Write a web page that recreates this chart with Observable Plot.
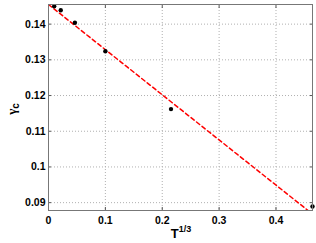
<!DOCTYPE html>
<html>
<head>
<meta charset="utf-8">
<script src="https://cdn.jsdelivr.net/npm/d3@7"></script>
<script src="https://cdn.jsdelivr.net/npm/@observablehq/plot@0.6"></script>
<style>
  html, body { margin: 0; padding: 0; background: #fff; }
  svg { display: block; }
</style>
</head>
<body>
<div id="chart"></div>
<script>
// Data points: T^(1/3) vs gamma_c
const xValues = [0.01, 0.0215, 0.0464, 0.1, 0.2154, 0.4642];
const yValues = [0.1450, 0.1439, 0.1404, 0.1324, 0.1162, 0.0889];
// Linear fit (dashed red)
const fitX = [0, 0.4642];
const fitY = [0.1455, 0.0868];
// Ticks
const xTicks = [0, 0.1, 0.2, 0.3, 0.4];
const yTicks = [0.09, 0.10, 0.11, 0.12, 0.13, 0.14];
const xTickLabels = ["0", "0.1", "0.2", "0.3", "0.4"];
const yTickLabels = ["0.09", "0.1", "0.11", "0.12", "0.13", "0.14"];

const points = xValues.map((x, i) => ({x, y: yValues[i]}));
const fit = fitX.map((x, i) => ({x, y: fitY[i]}));

const font = "'Liberation Sans', Arial, sans-serif";

const chart = Plot.plot({
  width: 316,
  height: 243,
  marginLeft: 48,
  marginRight: 4,
  marginTop: 4,
  marginBottom: 33,
  style: {fontFamily: font, fontSize: "10.5px", fontWeight: "bold", background: "#fff", color: "#000"},
  x: {domain: [0, 0.4642], ticks: xTicks},
  y: {domain: [0.0878, 0.1455], ticks: yTicks},
  marks: [
    Plot.gridX(xTicks, {stroke: "#b0b0b0", strokeOpacity: 1, strokeDasharray: "1,2"}),
    Plot.gridY(yTicks, {stroke: "#b0b0b0", strokeOpacity: 1, strokeDasharray: "1,2"}),
    // labels
    Plot.axisX(xTicks, {anchor: "bottom", tickSize: 0, tickPadding: 6, label: null,
      tickFormat: (d, i) => xTickLabels[i], fill: "#000"}),
    Plot.axisY(yTicks, {anchor: "left", tickSize: 0, tickPadding: 3, label: null,
      tickFormat: (d, i) => yTickLabels[i], fill: "#000"}),
    // inward tick marks
    Plot.axisX(xTicks, {anchor: "bottom", tickSize: -3, label: null, tickFormat: () => "", stroke: "#555"}),
    Plot.axisX(xTicks, {anchor: "top", tickSize: -3, label: null, tickFormat: () => "", stroke: "#555"}),
    Plot.axisY(yTicks, {anchor: "left", tickSize: -3, label: null, tickFormat: () => "", stroke: "#555"}),
    Plot.axisY(yTicks, {anchor: "right", tickSize: -3, label: null, tickFormat: () => "", stroke: "#555"}),
    Plot.line(fit, {x: "x", y: "y", stroke: "#ff0000", strokeWidth: 1.5, strokeDasharray: "4,3", clip: true}),
    Plot.dot(points, {x: "x", y: "y", r: 2.2, fill: "#000", stroke: "none", clip: false}),
    Plot.frame({stroke: "#777", strokeWidth: 1})
  ]
});

document.getElementById("chart").appendChild(chart);

// Axis labels with sub/superscripts
const svg = d3.select(chart);
const xl = svg.append("text")
  .attr("x", 181).attr("y", 238)
  .attr("text-anchor", "middle")
  .attr("font-family", font).attr("font-weight", "bold").attr("font-size", 13)
  .attr("fill", "#000");
xl.append("tspan").text("T");
xl.append("tspan").attr("font-size", 9).attr("dy", -6).text("1/3");

const yl = svg.append("text")
  .attr("transform", "translate(16,109) rotate(-90)")
  .attr("text-anchor", "middle")
  .attr("font-family", "'Liberation Serif', serif").attr("font-size", 13)
  .attr("fill", "#000");
yl.append("tspan").text("γ");
yl.append("tspan").attr("font-family", font).attr("font-size", 10).attr("font-weight", "bold").attr("dy", 3).text("c");
</script>
</body>
</html>
